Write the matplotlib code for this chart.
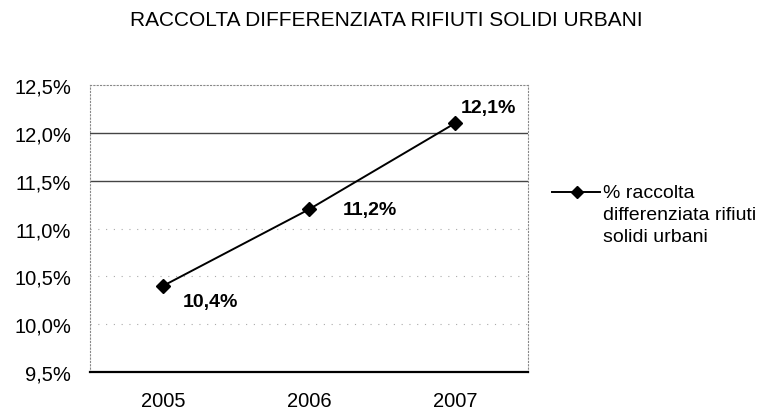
import matplotlib
matplotlib.use("Agg")
import matplotlib.pyplot as plt
from matplotlib.lines import Line2D

plt.rcParams['font.family'] = ['Liberation Sans', 'DejaVu Sans']

years = ["2005", "2006", "2007"]
values = [10.4, 11.2, 12.1]
y_ticks = [9.5, 10.0, 10.5, 11.0, 11.5, 12.0, 12.5]
title = "RACCOLTA DIFFERENZIATA RIFIUTI SOLIDI URBANI"
series_name = ["% raccolta", "differenziata rifiuti", "solidi urbani"]


def fmt(v):
    return f"{v:.1f}%".replace(".", ",")


W, H = 770, 414
fig = plt.figure(figsize=(W / 100, H / 100), dpi=100)
ax = fig.add_axes([90 / W, 1 - 373 / H, 438 / W, 287 / H])

x = list(range(len(years)))
ax.set_xlim(-0.5, len(years) - 0.5)
ax.set_ylim(9.5, 12.5)

# horizontal gridlines: the upper ones solid, lower ones faint and dotted
for yv in y_ticks[1:-1]:
    if yv >= 11.5:
        ax.axhline(yv, color="#444444", lw=1.0, zorder=1)
    else:
        ax.axhline(yv, color="#aaaaaa", lw=0.8, ls=(0, (1, 6)), zorder=1)

ax.plot(x, values, color="black", lw=1.4, marker="D", ms=7,
        markerfacecolor="black", zorder=3)

# value labels (offsets in points from each marker)
offsets = [(14, -11), (24, 0), (4, 11.5)]
for xi, v, (dx, dy) in zip(x, values, offsets):
    ax.annotate(fmt(v), (xi, v), xytext=(dx, dy), textcoords="offset points",
                fontsize=14, fontweight="bold", ha="left", va="center",
                zorder=4)

ax.set_yticks(y_ticks)
ax.set_yticklabels([fmt(v) for v in y_ticks], fontsize=14.5)
ax.set_xticks(x)
ax.set_xticklabels(years, fontsize=14.5)
ax.tick_params(axis="both", length=0)
ax.tick_params(axis="y", pad=13.5)
ax.tick_params(axis="x", pad=14)

for side in ["top", "left", "right"]:
    ax.spines[side].set_color("#888888")
    ax.spines[side].set_linestyle((0, (1, 2)))
    ax.spines[side].set_linewidth(0.8)
ax.spines["bottom"].set_color("black")
ax.spines["bottom"].set_linewidth(1.6)

fig.text(386 / W, 1 - 20 / H, title, ha="center", va="center", fontsize=15)

# legend: marker handle beside the first line of the series name
fig.add_artist(Line2D([552 / W, 600 / W], [1 - 193 / H, 1 - 193 / H],
                      transform=fig.transFigure, color="black", lw=1.4))
fig.add_artist(Line2D([577 / W], [1 - 193 / H], transform=fig.transFigure,
                      color="black", marker="D", ms=6, lw=0))
for i, line in enumerate(series_name):
    fig.text(603 / W, 1 - (193 + 22.5 * i) / H, line, ha="left",
             va="center", fontsize=14)

fig.savefig("out.png", dpi=100)
